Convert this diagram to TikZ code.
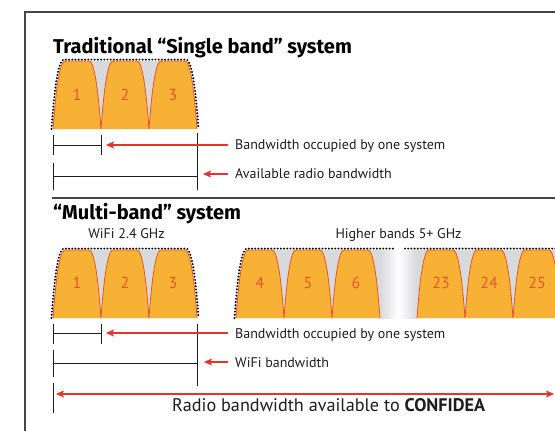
\documentclass[tikz,border=0pt]{standalone}
\usepackage{fontspec}
\setmainfont{PT Sans}
\newfontfamily\headfont{Fira Sans}
\usetikzlibrary{arrows.meta}
\definecolor{bandfill}{RGB}{247,177,52}
\definecolor{bandline}{RGB}{233,84,42}
\definecolor{valley}{RGB}{216,217,220}
\definecolor{arrowred}{RGB}{232,50,42}
\definecolor{ink}{RGB}{30,30,30}
\definecolor{rule}{RGB}{70,70,70}
\begin{document}
\begin{tikzpicture}[x=1pt,y=-1pt,
  lab/.style={font=\fontsize{14}{16}\selectfont, text=ink, inner xsep=7pt, inner ysep=0pt, anchor=base west},
  ttl/.style={font=\headfont\bfseries\fontsize{20}{22}\selectfont, text=black, inner sep=0pt, anchor=base west},
  grp/.style={font=\fontsize{14}{16}\selectfont, text=ink, inner sep=0pt, anchor=base},
  num/.style={font=\fontsize{16}{18}\selectfont, text=bandline, inner sep=0pt},
  band/.style={fill=bandfill, draw=bandline, line width=0.8pt},
  envelope/.style={draw=black, line width=2.2pt, line cap=round, dash pattern=on 0pt off 3.2pt},
  bracket/.style={draw=ink, line width=1pt},
  redarrow/.style={draw=arrowred, line width=1.8pt, -{Stealth[length=8pt,width=7pt,inset=2pt]}},
  redboth/.style={draw=arrowred, line width=1.8pt, {Stealth[length=8pt,width=7pt,inset=2pt]}-{Stealth[length=8pt,width=7pt,inset=2pt]}}
]
\useasboundingbox (0,0) rectangle (555,431);
\fill[white] (0,0) rectangle (555,431);

% frame and separator
\draw[rule, line width=2pt] (25,431) -- (25,12) -- (556,12);
\draw[rule, line width=1.4pt] (52,198) -- (556,198);

% ---------- single band system ----------
\node[ttl] (title1) at (53,53) {Traditional “Single band” system};

\fill[valley] (53,129) .. controls (54.5,110) and (58,61) .. (65,61) -- (185,61) .. controls (192,61) and (195.5,110) .. (197,129) -- cycle;
\foreach \x/\n in {53/1,101/2,149/3} {
  \filldraw[band] (\x,129) .. controls (\x+1.5,110) and (\x+5,61) .. (\x+12,61) -- (\x+36,61) .. controls (\x+43,61) and (\x+46.5,110) .. (\x+48,129);
  \node[num] (s\n) at (\x+24,95) {\n};
}
\draw[envelope] (51.5,129) .. controls (53,109) and (56.5,59.6) .. (64,59.6) -- (186,59.6) .. controls (193.5,59.6) and (197,109) .. (198.5,129);

% brackets
\coordinate (sa) at (53,145);
\coordinate (sb) at (101,145);
\coordinate (sc) at (53,176);
\coordinate (sd) at (197,176);
\draw[bracket] (53,135) -- (53,155);
\draw[bracket] (101,135) -- (101,155);
\draw[bracket] (sa) -- (sb);
\draw[bracket] (53,163) -- (53,190);
\draw[bracket] (197,133) -- (197,190);
\draw[bracket] (sc) -- (sd);
\coordinate (sbt) at (106,145);
\coordinate (sdt) at (203,174);

\node[lab] (lab1) at (228,149.5) {Bandwidth occupied by one system};
\node[lab] (lab2) at (228,178.5) {Available radio bandwidth};
\draw[redarrow] (lab1.west |- sbt) -- (sbt);
\draw[redarrow] (lab2.west |- sdt) -- (sdt);

% ---------- multi band system ----------
\node[ttl] (title2) at (53,219) {“Multi-band” system};
\node[grp] (wifi) at (126.5,238) {WiFi 2.4 GHz};
\node[grp] (higher) at (398.5,238) {Higher bands 5+ GHz};

% WiFi group
\fill[valley] (53,318) .. controls (54.5,299) and (58,250) .. (65,250) -- (185,250) .. controls (192,250) and (195.5,299) .. (197,318) -- cycle;
% higher group, with a faded gap between band 6 and band 23
\fill[valley] (236,318) .. controls (237.5,299) and (241,250) .. (248,250) -- (560,250) -- (560,318) -- cycle;
\shade[left color=valley, right color=white] (380,250) rectangle (398.5,318);
\shade[left color=white, right color=valley] (398.5,250) rectangle (417,318);

\foreach \x/\n in {53/1,101/2,149/3,236/4,284/5,332/6,417/23,465/24,513/25} {
  \filldraw[band] (\x,318) .. controls (\x+1.5,299) and (\x+5,250) .. (\x+12,250) -- (\x+36,250) .. controls (\x+43,250) and (\x+46.5,299) .. (\x+48,318);
  \node[num] (m\n) at (\x+24,283) {\n};
}
\draw[envelope] (51.5,318) .. controls (53,298) and (56.5,248.6) .. (64,248.6) -- (186,248.6) .. controls (193.5,248.6) and (197,298) .. (198.5,318);
\draw[envelope] (234.5,318) .. controls (236,298) and (239.5,248.6) .. (247,248.6) -- (393,248.6);
\draw[envelope] (405,248.6) -- (556,248.6);

% brackets
\coordinate (ma) at (53,333);
\coordinate (mb) at (101,333);
\coordinate (mc) at (53,363);
\coordinate (md) at (197,363);
\draw[bracket] (53,324) -- (53,344);
\draw[bracket] (101,324) -- (101,344);
\draw[bracket] (ma) -- (mb);
\draw[bracket] (53,350) -- (53,377);
\draw[bracket] (197,324) -- (197,386);
\draw[bracket] (mc) -- (md);
\draw[bracket] (53,383) -- (53,413);
\coordinate (mbt) at (106,333);
\coordinate (mdt) at (204,362);

\node[lab] (lab3) at (228,338) {Bandwidth occupied by one system};
\node[lab] (lab4) at (228,367.5) {WiFi bandwidth};
\draw[redarrow] (lab3.west |- mbt) -- (mbt);
\draw[redarrow] (lab4.west |- mdt) -- (mdt);

\coordinate (rl) at (56,394);
\coordinate (rr) at (554,394);
\draw[redboth] (rl) -- (rr);
\node[grp, anchor=base west, font=\fontsize{18.2}{20}\selectfont] (radio) at (172,411) {Radio bandwidth available to \textbf{CONFIDEA}};
\end{tikzpicture}
\end{document}
